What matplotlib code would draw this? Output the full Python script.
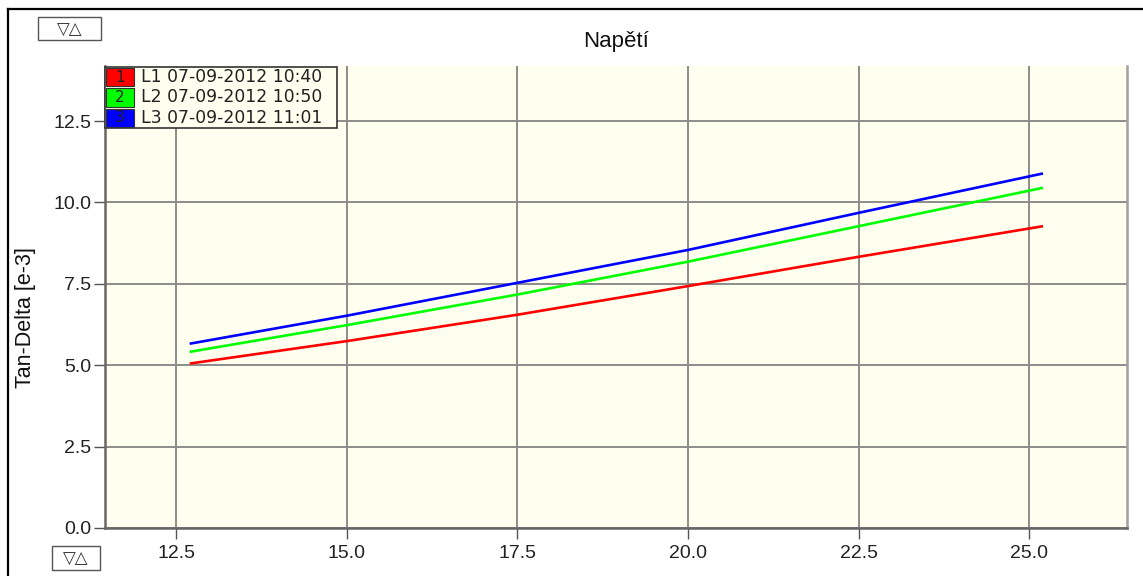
import matplotlib
matplotlib.use("Agg")
import matplotlib.pyplot as plt
from matplotlib.patches import Rectangle
from matplotlib.lines import Line2D

plt.rcParams['font.family'] = ['Liberation Sans', 'DejaVu Sans']

# ---- data ----
voltage = [12.7, 15.0, 17.5, 20.0, 22.5, 25.2]
l1 = [5.05, 5.74, 6.55, 7.43, 8.33, 9.27]
l2 = [5.41, 6.23, 7.17, 8.18, 9.27, 10.45]
l3 = [5.66, 6.52, 7.53, 8.54, 9.68, 10.89]
series_names = ["L1 07-09-2012 10:40", "L2 07-09-2012 10:50", "L3 07-09-2012 11:01"]
series_colors = ["#ff0000", "#00ff00", "#0000ff"]
xticks = [12.5, 15.0, 17.5, 20.0, 22.5, 25.0]
yticks = [0.0, 2.5, 5.0, 7.5, 10.0, 12.5]
title = "Napětí"
ylabel = "Tan-Delta [e-3]"

W, H = 1143, 576
fig = plt.figure(figsize=(W / 100, H / 100), dpi=100)
fig.patch.set_facecolor("white")

def fx(px):
    return px / W

def fy(py):
    return 1 - py / H

L, R, T, B = 105, 1127, 66, 528
ax = fig.add_axes([fx(L), fy(B), fx(R) - fx(L), fy(T) - fy(B)])
ax.set_facecolor("#fffff0")
ax.set_xlim(11.46, 26.43)
ax.set_ylim(0, 14.19)

for ys, c in zip([l1, l2, l3], series_colors):
    ax.plot(voltage, ys, color=c, lw=1.9, solid_capstyle="butt", zorder=3)

ax.set_xticks(xticks)
ax.set_yticks(yticks)
ax.set_xticklabels([f"{v:.1f}" for v in xticks])
ax.set_yticklabels([f"{v:.1f}" for v in yticks])
ax.grid(True, color="#8c8c8c", lw=1.4, zorder=1)
ax.tick_params(axis="both", direction="out", length=8, width=1, color="#555555",
               labelsize=14, labelcolor="#222222")
ax.tick_params(axis="x", pad=4)
ax.tick_params(axis="y", pad=2)
for s in ["left", "bottom"]:
    ax.spines[s].set_color("#666666")
    ax.spines[s].set_linewidth(1.8)
ax.spines["right"].set_color("#a0a0a0")
ax.spines["right"].set_linewidth(1.8)
ax.spines["top"].set_visible(False)

# title and y label
fig.text(fx(616), fy(42), title, ha="center", va="center", fontsize=16, color="#111111")
fig.text(fx(25), fy(318), ylabel, ha="center", va="center", rotation=90,
         fontsize=15.5, color="#111111")

# outer frame
fig.add_artist(Line2D([fx(8), 1.0], [fy(9), fy(9)], color="black", lw=1.6))
fig.add_artist(Line2D([fx(8), fx(8)], [fy(9), 0.0], color="black", lw=1.6))

# small buttons
for (bx, by, bw, bh) in [(38, 17, 63, 23), (52, 546, 48, 24)]:
    fig.add_artist(Rectangle((fx(bx), fy(by + bh)), fx(bw), bh / H, transform=fig.transFigure,
                             facecolor="white", edgecolor="#555555", lw=1.0))
    fig.text(fx(bx + bw / 2), fy(by + bh / 2), "▽△", ha="center", va="center",
             fontsize=12, color="#333333", family=["DejaVu Sans"])

# legend box
lx, ly, lw_, rowh = 105, 67, 232, 20.3
fig.add_artist(Rectangle((fx(lx), fy(ly + 3 * rowh)), fx(lw_), 3 * rowh / H,
                         transform=fig.transFigure, facecolor="#fffff0",
                         edgecolor="#333333", lw=1.2, zorder=5))
for i, (name, c) in enumerate(zip(series_names, series_colors)):
    y0 = ly + i * rowh
    fig.add_artist(Rectangle((fx(lx + 1), fy(y0 + rowh - 1)), fx(28), (rowh - 2) / H,
                             transform=fig.transFigure, facecolor=c,
                             edgecolor="#333333", lw=0.8, zorder=6))
    fig.text(fx(lx + 15), fy(y0 + rowh / 2), str(i + 1), ha="center", va="center",
             fontsize=11, color="#222222", zorder=7, family=["DejaVu Sans"])
    fig.text(fx(lx + 36), fy(y0 + rowh / 2), name, ha="left", va="center",
             fontsize=12.4, color="#222222", zorder=7, family=["DejaVu Sans"])

fig.savefig("out.png", dpi=100)
